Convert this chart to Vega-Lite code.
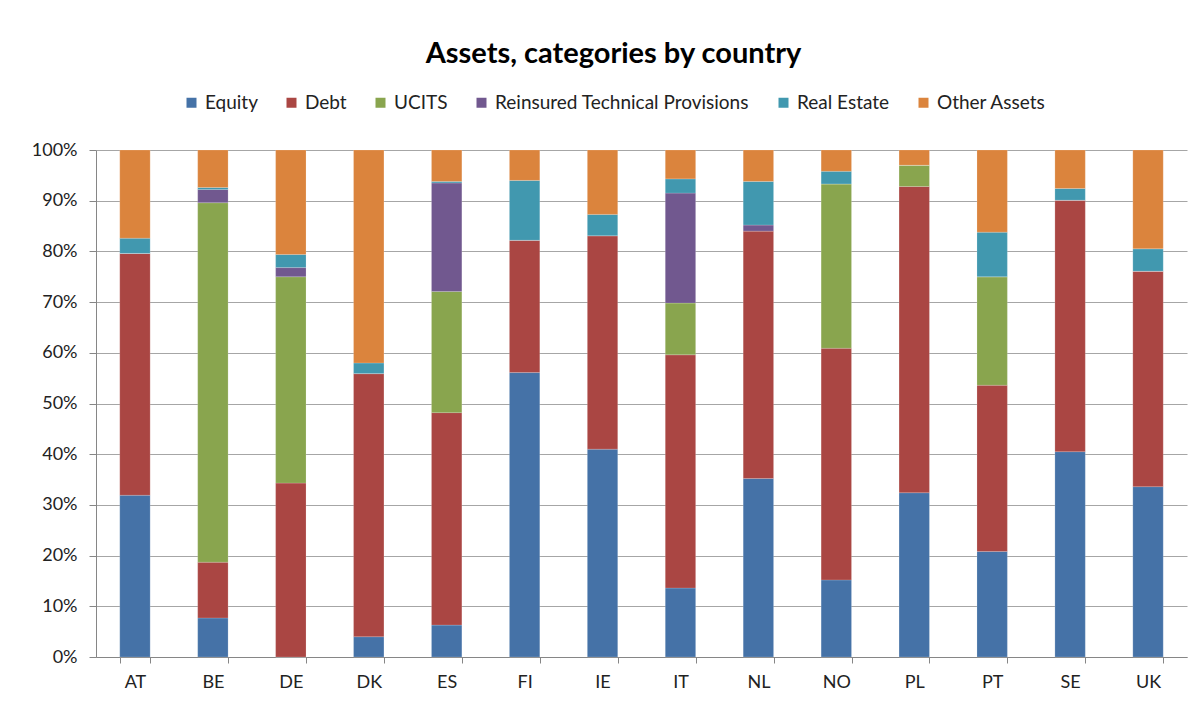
{
  "$schema": "https://vega.github.io/schema/vega-lite/v6.json",
  "width": 1091,
  "height": 507,
  "autosize": {"type": "none"},
  "padding": {"left": 96, "top": 150, "right": 16, "bottom": 45},
  "background": "white",
  "title": {
    "text": "Assets, categories by country",
    "font": "Lato",
    "fontSize": 29,
    "fontWeight": "bold",
    "color": "#000000",
    "anchor": "middle",
    "frame": "group",
    "dx": -28,
    "offset": 24
  },
  "data": {
    "values": [
      {"country": "AT", "category": "Equity", "value": 31.9},
      {"country": "AT", "category": "Debt", "value": 47.7},
      {"country": "AT", "category": "UCITS", "value": 0},
      {"country": "AT", "category": "Reinsured Technical Provisions", "value": 0},
      {"country": "AT", "category": "Real Estate", "value": 3.0},
      {"country": "AT", "category": "Other Assets", "value": 17.4},
      {"country": "BE", "category": "Equity", "value": 7.7},
      {"country": "BE", "category": "Debt", "value": 11.0},
      {"country": "BE", "category": "UCITS", "value": 70.9},
      {"country": "BE", "category": "Reinsured Technical Provisions", "value": 2.6},
      {"country": "BE", "category": "Real Estate", "value": 0.4},
      {"country": "BE", "category": "Other Assets", "value": 7.4},
      {"country": "DE", "category": "Equity", "value": 0},
      {"country": "DE", "category": "Debt", "value": 34.3},
      {"country": "DE", "category": "UCITS", "value": 40.7},
      {"country": "DE", "category": "Reinsured Technical Provisions", "value": 1.8},
      {"country": "DE", "category": "Real Estate", "value": 2.6},
      {"country": "DE", "category": "Other Assets", "value": 20.6},
      {"country": "DK", "category": "Equity", "value": 4.0},
      {"country": "DK", "category": "Debt", "value": 51.9},
      {"country": "DK", "category": "UCITS", "value": 0},
      {"country": "DK", "category": "Reinsured Technical Provisions", "value": 0},
      {"country": "DK", "category": "Real Estate", "value": 2.1},
      {"country": "DK", "category": "Other Assets", "value": 42.0},
      {"country": "ES", "category": "Equity", "value": 6.3},
      {"country": "ES", "category": "Debt", "value": 41.9},
      {"country": "ES", "category": "UCITS", "value": 23.9},
      {"country": "ES", "category": "Reinsured Technical Provisions", "value": 21.4},
      {"country": "ES", "category": "Real Estate", "value": 0.3},
      {"country": "ES", "category": "Other Assets", "value": 6.2},
      {"country": "FI", "category": "Equity", "value": 56.1},
      {"country": "FI", "category": "Debt", "value": 26.1},
      {"country": "FI", "category": "UCITS", "value": 0},
      {"country": "FI", "category": "Reinsured Technical Provisions", "value": 0},
      {"country": "FI", "category": "Real Estate", "value": 11.8},
      {"country": "FI", "category": "Other Assets", "value": 6.0},
      {"country": "IE", "category": "Equity", "value": 41.0},
      {"country": "IE", "category": "Debt", "value": 42.1},
      {"country": "IE", "category": "UCITS", "value": 0},
      {"country": "IE", "category": "Reinsured Technical Provisions", "value": 0},
      {"country": "IE", "category": "Real Estate", "value": 4.2},
      {"country": "IE", "category": "Other Assets", "value": 12.7},
      {"country": "IT", "category": "Equity", "value": 13.6},
      {"country": "IT", "category": "Debt", "value": 46.0},
      {"country": "IT", "category": "UCITS", "value": 10.2},
      {"country": "IT", "category": "Reinsured Technical Provisions", "value": 21.7},
      {"country": "IT", "category": "Real Estate", "value": 2.8},
      {"country": "IT", "category": "Other Assets", "value": 5.7},
      {"country": "NL", "category": "Equity", "value": 35.2},
      {"country": "NL", "category": "Debt", "value": 48.8},
      {"country": "NL", "category": "UCITS", "value": 0},
      {"country": "NL", "category": "Reinsured Technical Provisions", "value": 1.2},
      {"country": "NL", "category": "Real Estate", "value": 8.6},
      {"country": "NL", "category": "Other Assets", "value": 6.2},
      {"country": "NO", "category": "Equity", "value": 15.2},
      {"country": "NO", "category": "Debt", "value": 45.7},
      {"country": "NO", "category": "UCITS", "value": 32.4},
      {"country": "NO", "category": "Reinsured Technical Provisions", "value": 0},
      {"country": "NO", "category": "Real Estate", "value": 2.5},
      {"country": "NO", "category": "Other Assets", "value": 4.2},
      {"country": "PL", "category": "Equity", "value": 32.4},
      {"country": "PL", "category": "Debt", "value": 60.4},
      {"country": "PL", "category": "UCITS", "value": 4.2},
      {"country": "PL", "category": "Reinsured Technical Provisions", "value": 0},
      {"country": "PL", "category": "Real Estate", "value": 0},
      {"country": "PL", "category": "Other Assets", "value": 3.0},
      {"country": "PT", "category": "Equity", "value": 20.8},
      {"country": "PT", "category": "Debt", "value": 32.8},
      {"country": "PT", "category": "UCITS", "value": 21.4},
      {"country": "PT", "category": "Reinsured Technical Provisions", "value": 0},
      {"country": "PT", "category": "Real Estate", "value": 8.8},
      {"country": "PT", "category": "Other Assets", "value": 16.2},
      {"country": "SE", "category": "Equity", "value": 40.5},
      {"country": "SE", "category": "Debt", "value": 49.6},
      {"country": "SE", "category": "UCITS", "value": 0},
      {"country": "SE", "category": "Reinsured Technical Provisions", "value": 0},
      {"country": "SE", "category": "Real Estate", "value": 2.3},
      {"country": "SE", "category": "Other Assets", "value": 7.6},
      {"country": "UK", "category": "Equity", "value": 33.6},
      {"country": "UK", "category": "Debt", "value": 42.5},
      {"country": "UK", "category": "UCITS", "value": 0},
      {"country": "UK", "category": "Reinsured Technical Provisions", "value": 0},
      {"country": "UK", "category": "Real Estate", "value": 4.4},
      {"country": "UK", "category": "Other Assets", "value": 19.5}
    ]
  },
  "transform": [
    {"calculate": "indexof(['Equity', 'Debt', 'UCITS', 'Reinsured Technical Provisions', 'Real Estate', 'Other Assets'], datum.category)", "as": "stackOrder"}
  ],
  "mark": {"type": "bar", "stroke": "white", "strokeOpacity": 0.35, "strokeWidth": 0.5},
  "encoding": {
    "x": {
      "field": "country",
      "type": "nominal",
      "sort": null,
      "scale": {"paddingInner": 0.61, "paddingOuter": 0.305},
      "axis": {
        "title": null,
        "labelAngle": 0,
        "tickBand": "extent",
        "grid": false,
        "domainColor": "#868686",
        "tickColor": "#868686",
        "tickSize": 6,
        "labelPadding": 10,
        "labelFont": "Lato",
        "labelFontSize": 18,
        "labelColor": "#222222"
      }
    },
    "y": {
      "field": "value",
      "type": "quantitative",
      "stack": "normalize",
      "scale": {"domain": [0, 1]},
      "axis": {
        "title": null,
        "format": ".0%",
        "values": [0, 0.1, 0.2, 0.3, 0.4, 0.5, 0.6, 0.7, 0.8, 0.9, 1],
        "grid": true,
        "gridColor": "#a6a6a6",
        "gridWidth": 1.2,
        "domainColor": "#868686",
        "tickColor": "#868686",
        "tickSize": 7,
        "labelPadding": 12,
        "labelFont": "Lato",
        "labelFontSize": 18,
        "labelColor": "#222222"
      }
    },
    "order": {"field": "stackOrder", "type": "quantitative", "sort": "ascending"},
    "color": {
      "field": "category",
      "type": "nominal",
      "sort": ["Equity", "Debt", "UCITS", "Reinsured Technical Provisions", "Real Estate", "Other Assets"],
      "scale": {
        "domain": ["Equity", "Debt", "UCITS", "Reinsured Technical Provisions", "Real Estate", "Other Assets"],
        "range": ["#4572A7", "#AA4643", "#89A54E", "#71588F", "#4198AF", "#DB843D"]
      },
      "legend": {
        "title": null,
        "orient": "none",
        "direction": "horizontal",
        "legendX": 86,
        "legendY": -57,
        "symbolType": "square",
        "symbolSize": 100,
        "symbolStrokeWidth": 0,
        "labelFont": "Lato",
        "labelFontSize": 19,
        "labelLimit": 500,
        "labelColor": "#222222",
        "labelOffset": 4,
        "columnPadding": 24
      }
    }
  },
  "config": {
    "view": {"stroke": null}
  }
}
